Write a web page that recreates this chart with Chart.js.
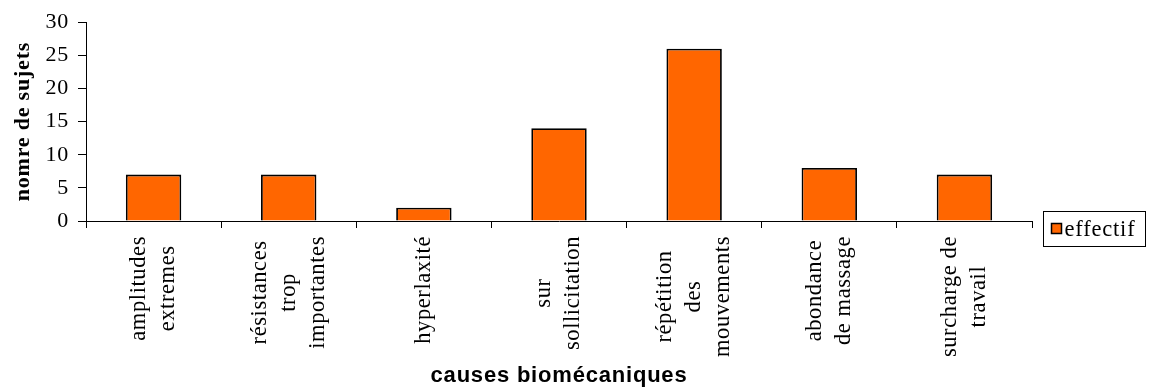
<!DOCTYPE html>
<html>
<head>
<meta charset="utf-8">
<script src="https://cdn.jsdelivr.net/npm/chart.js@4/dist/chart.umd.min.js"></script>
<style>
  html, body { margin: 0; padding: 0; background: #fff; }
  canvas { display: block; }
</style>
</head>
<body>
<canvas id="c" width="1153" height="389"></canvas>
<script>
// Categories (each entry is the stacked lines of its axis label)
const categories = [
  ["amplitudes", "extremes"],
  ["résistances", "trop", "importantes"],
  ["hyperlaxité"],
  ["sur", "sollicitation"],
  ["répétition", "des", "mouvements"],
  ["abondance", "de massage"],
  ["surcharge de", "travail"]
];
const seriesName = "effectif";
const effectif = [7, 7, 2, 14, 26, 8, 7];
const yTicks = [0, 5, 10, 15, 20, 25, 30];
const xTitle = "causes biomécaniques";
const yTitle = "nomre de sujets";

const SERIF = '"Liberation Serif", "Times New Roman", serif';
const SANS = '"Liberation Sans", Arial, sans-serif';
const BAR_FILL = "#FF6600";

// Slightly spaced-out glyphs for every text drawn by the chart
const spacing = {
  id: "spacing",
  beforeDraw(chart) { chart.ctx.letterSpacing = "0.8px"; }
};

// Category labels: vertical, lines side by side, each line centred in its block
const stackedXLabels = {
  id: "stackedXLabels",
  afterDraw(chart) {
    const ctx = chart.ctx;
    const xs = chart.scales.x;
    const top = xs.top + 15;
    const lh = 29;
    ctx.save();
    ctx.font = "22.5px " + SERIF;
    ctx.letterSpacing = "0.6px";
    ctx.fillStyle = "#000";
    ctx.textAlign = "center";
    ctx.textBaseline = "middle";
    chart.data.labels.forEach((lines, i) => {
      const px = xs.getPixelForValue(i);
      const w = Math.max(...lines.map(l => ctx.measureText(l).width));
      lines.forEach((line, j) => {
        ctx.save();
        ctx.translate(px + (j - (lines.length - 1) / 2) * lh, top + w / 2);
        ctx.rotate(-Math.PI / 2);
        ctx.fillText(line, 0, 0);
        ctx.restore();
      });
    });
    ctx.restore();
  }
};

// Framed legend to the right of the plot
const boxedLegend = {
  id: "boxedLegend",
  afterDraw(chart) {
    const ctx = chart.ctx;
    const ds = chart.data.datasets[0];
    const area = chart.chartArea;
    const bx = area.right + 11.5, by = area.bottom - 9.5, bw = 102, bh = 35;
    ctx.save();
    ctx.letterSpacing = "0.8px";
    ctx.strokeStyle = "#000";
    ctx.lineWidth = 1;
    ctx.strokeRect(bx, by, bw, bh);
    ctx.fillStyle = ds.backgroundColor;
    ctx.lineWidth = 1.5;
    ctx.fillRect(bx + 8, by + 12, 10, 10);
    ctx.strokeRect(bx + 8, by + 12, 10, 10);
    ctx.fillStyle = "#000";
    ctx.font = "22.5px " + SERIF;
    ctx.textAlign = "left";
    ctx.textBaseline = "middle";
    ctx.fillText(ds.label, bx + 21, by + bh / 2 + 1);
    ctx.restore();
  }
};

Chart.defaults.color = "#000";

new Chart(document.getElementById("c"), {
  type: "bar",
  data: {
    labels: categories,
    datasets: [{
      label: seriesName,
      data: effectif,
      backgroundColor: BAR_FILL,
      borderColor: "#000",
      borderWidth: 1.8,
      barPercentage: 0.41,
      categoryPercentage: 1
    }]
  },
  options: {
    responsive: false,
    animation: false,
    devicePixelRatio: 1,
    layout: { padding: { top: 22, right: 121, bottom: 0, left: 0 } },
    plugins: {
      legend: { display: false },
      tooltip: { enabled: false }
    },
    scales: {
      x: {
        offset: true,
        grid: {
          offset: true,
          drawOnChartArea: false,
          drawTicks: true,
          tickLength: 7,
          color: "#000",
          lineWidth: 1
        },
        border: { color: "#000", width: 1 },
        ticks: { display: false },
        title: {
          display: true,
          text: xTitle,
          font: { family: SANS, size: 22, weight: "bold" },
          padding: { top: 0, bottom: 0 }
        },
        afterFit(scale) { scale.height = 168; }
      },
      y: {
        min: yTicks[0],
        max: yTicks[yTicks.length - 1],
        ticks: {
          stepSize: yTicks[1] - yTicks[0],
          padding: 9,
          font: { family: SERIF, size: 22 }
        },
        grid: {
          drawOnChartArea: false,
          drawTicks: true,
          tickLength: 8,
          color: "#000",
          lineWidth: 1
        },
        border: { color: "#000", width: 1 },
        title: {
          display: true,
          text: yTitle,
          font: { family: SERIF, size: 22, weight: "bold" },
          padding: { top: 10, bottom: 0 }
        },
        afterFit(scale) { scale.width = 86; }
      }
    }
  },
  plugins: [spacing, stackedXLabels, boxedLegend]
});
</script>
</body>
</html>
